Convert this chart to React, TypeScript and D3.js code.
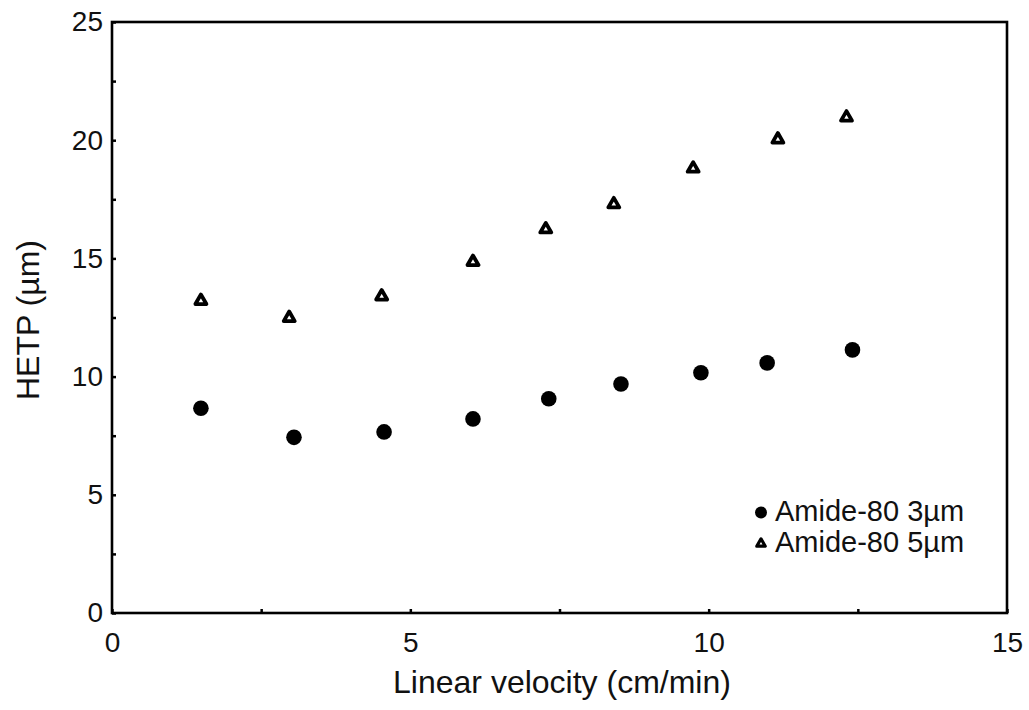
import React, { useEffect, useRef } from "react";
import * as d3 from "d3";

// Linear velocity (cm/min) vs HETP (µm) for two Amide-80 particle sizes
const velocity3um = [1.49, 3.05, 4.56, 6.05, 7.32, 8.53, 9.87, 10.98, 12.41];
const hetp3um = [8.66, 7.43, 7.66, 8.21, 9.06, 9.69, 10.16, 10.58, 11.13];

const velocity5um = [1.49, 2.97, 4.52, 6.05, 7.27, 8.41, 9.74, 11.16, 12.31];
const hetp5um = [13.27, 12.55, 13.46, 14.92, 16.3, 17.36, 18.87, 20.1, 21.03];

const seriesLabels = ["Amide-80 3µm", "Amide-80 5µm"];
const xTickValues = [0, 2.5, 5, 7.5, 10, 12.5, 15];
const yTickValues = [0, 2.5, 5, 7.5, 10, 12.5, 15, 17.5, 20, 22.5, 25];

const W = 1029;
const H = 710;
const margin = { left: 112, right: 22, top: 22, bottom: 97 };
const FONT = "'Liberation Sans', Arial, Helvetica, sans-serif";

export default function App() {
  const ref = useRef<SVGSVGElement | null>(null);

  useEffect(() => {
    const svg = d3.select(ref.current);
    svg.selectAll("*").remove();

    const x = d3.scaleLinear().domain([0, 15]).range([margin.left, W - margin.right]);
    const y = d3.scaleLinear().domain([0, 25]).range([H - margin.bottom, margin.top]);

    const fmt = (v: d3.NumberValue) => (Number(v) % 5 === 0 ? String(v) : "");

    const xAxis = svg
      .append("g")
      .attr("transform", `translate(0,${y(0)})`)
      .call(
        d3.axisBottom(x).tickValues(xTickValues).tickSizeInner(-4).tickSizeOuter(0).tickPadding(19).tickFormat(fmt)
      );
    const yAxis = svg
      .append("g")
      .attr("transform", `translate(${x(0)},0)`)
      .call(
        d3.axisLeft(y).tickValues(yTickValues).tickSizeInner(-4).tickSizeOuter(0).tickPadding(9).tickFormat(fmt)
      );

    [xAxis, yAxis].forEach((g) => {
      g.select(".domain").remove();
      g.selectAll(".tick line").attr("stroke", "#000").attr("stroke-width", 2.5);
      g.selectAll(".tick text")
        .attr("fill", "#111")
        .style("font-family", FONT)
        .style("font-size", "28px");
    });

    // plot frame
    svg
      .append("rect")
      .attr("x", x(0))
      .attr("y", y(25))
      .attr("width", x(15) - x(0))
      .attr("height", y(0) - y(25))
      .attr("fill", "none")
      .attr("stroke", "#000")
      .attr("stroke-width", 2.6);

    // axis titles
    svg
      .append("text")
      .attr("x", 562)
      .attr("y", 693)
      .attr("text-anchor", "middle")
      .attr("fill", "#111")
      .style("font-family", FONT)
      .style("font-size", "32px")
      .text("Linear velocity (cm/min)");

    svg
      .append("text")
      .attr("transform", `translate(39,${320}) rotate(-90)`)
      .attr("text-anchor", "middle")
      .attr("fill", "#111")
      .style("font-family", FONT)
      .style("font-size", "32px")
      .text("HETP (µm)");

    const triPath = (side: number) => {
      const h = (side * Math.sqrt(3)) / 2;
      const p = d3.path();
      p.moveTo(0, -h / 2);
      p.lineTo(side / 2, h / 2);
      p.lineTo(-side / 2, h / 2);
      p.closePath();
      return p.toString();
    };

    // 3 µm: filled circles
    svg
      .append("g")
      .selectAll("circle")
      .data(d3.zip(velocity3um, hetp3um))
      .join("circle")
      .attr("cx", (d) => x(d[0]))
      .attr("cy", (d) => y(d[1]))
      .attr("r", 7.8)
      .attr("fill", "#000");

    // 5 µm: open triangles with heavy outline
    svg
      .append("g")
      .selectAll("path")
      .data(d3.zip(velocity5um, hetp5um))
      .join("path")
      .attr("transform", (d) => `translate(${x(d[0])},${y(d[1])})`)
      .attr("d", triPath(11))
      .attr("fill", "#fff")
      .attr("stroke", "#000")
      .attr("stroke-width", 3.8)
      .attr("stroke-linejoin", "round");

    // legend
    const legend = svg.append("g");
    legend.append("circle").attr("cx", 761).attr("cy", 512.5).attr("r", 6).attr("fill", "#000");
    legend
      .append("path")
      .attr("transform", "translate(761,542.5)")
      .attr("d", triPath(8.5))
      .attr("fill", "#fff")
      .attr("stroke", "#000")
      .attr("stroke-width", 3.2)
      .attr("stroke-linejoin", "round");
    legend
      .selectAll("text")
      .data(seriesLabels)
      .join("text")
      .attr("x", 775)
      .attr("y", (_d, i) => 521 + i * 31)
      .attr("fill", "#111")
      .style("font-family", FONT)
      .style("font-size", "29px")
      .text((d) => d);
  }, []);

  return (
    <svg
      ref={ref}
      width={W}
      height={H}
      style={{ position: "absolute", left: 0, top: 0, background: "#fff" }}
    />
  );
}
